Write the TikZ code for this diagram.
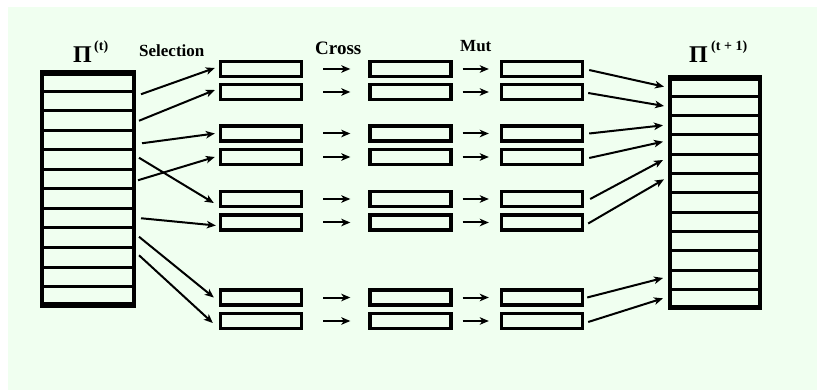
\documentclass[tikz,border=0pt]{standalone}
\usepackage{fontspec}
\setmainfont{Liberation Serif}
\usetikzlibrary{arrows.meta}
\definecolor{bgpale}{RGB}{240,255,240}
\tikzset{
  cell/.style={draw, line width=3pt, inner sep=0pt, minimum height=#1},
  lcell/.style={cell=19.5pt, minimum width=93pt},
  rcell/.style={cell=19.33pt, minimum width=91pt},
  outer/.style={draw, line width=4pt, inner sep=0pt},
  sbox/.style={draw, line width=3.4pt, inner sep=0pt, minimum width=81pt, minimum height=15pt},
  arr/.style={line width=2pt, -{Stealth[length=9pt,width=7.5pt,inset=2.5pt]}},
  lbl/.style={font=\bfseries, anchor=base west, inner sep=0pt},
}
\begin{document}
\begin{tikzpicture}[x=1pt,y=-1pt]
\useasboundingbox (0,0) rectangle (822,390);
\fill[white] (0,0) rectangle (822,390);
\fill[bgpale] (8,7) rectangle (817,390);

% left stack
\foreach \i in {1,...,12} {
  \node[lcell] (L\i) at (88,{72+19.5*(\i-0.5)}) {};
}
\node[outer, minimum width=92pt, minimum height=230pt] (L) at (88,189) {};
% right stack
\foreach \i in {1,...,12} {
  \node[rcell] (R\i) at (715,{77+19.333*(\i-0.5)}) {};
}
\node[outer, minimum width=90pt, minimum height=228pt] (R) at (715,193) {};

% boxes
\foreach \k/\y in {1/69,2/92,3/133.5,4/157,5/199,6/222.5,7/297.5,8/321} {
  \node[sbox] (A\k) at (261,\y) {};
  \node[sbox] (B\k) at (410.5,\y) {};
  \node[sbox] (C\k) at (542,\y) {};
  \draw[arr] ([xshift=20pt]A\k.east) -- ([xshift=-18pt]B\k.west);
  \draw[arr] ([xshift=10pt]B\k.east) -- ([xshift=-11pt]C\k.west);
}

% labels
\node[lbl, font=\bfseries\fontsize{24}{28}\selectfont] (pit) at (73,63) {Π};
\node[lbl, font=\bfseries\fontsize{14}{16}\selectfont] (pits) at (94,51) {(t)};
\node[lbl, font=\bfseries\fontsize{17}{20}\selectfont] (sel) at (139,57) {Selection};
\node[lbl, font=\bfseries\fontsize{19}{22}\selectfont] (cross) at (315,55) {Cross};
\node[lbl, font=\bfseries\fontsize{17}{20}\selectfont] (mut) at (460,52) {Mut};
\node[lbl, font=\bfseries\fontsize{24}{28}\selectfont] (pit1) at (689,63) {Π};
\node[lbl, font=\bfseries\fontsize{14}{16}\selectfont] (pit1s) at (711,51) {(t + 1)};

% selection arrows
\draw[arr] ([xshift=5pt,yshift=7pt]L2.east) -- ([xshift=-4pt,yshift=1pt]A1.west);
\draw[arr] ([xshift=3pt,yshift=0pt]L3.east) -- ([xshift=-4pt,yshift=2pt]A2.west);
\draw[arr] ([xshift=6pt,yshift=-3pt]L4.east) -- ([xshift=-4pt]A3.west);
\draw[arr] ([xshift=2pt,yshift=-1pt]L6.east) -- ([xshift=-4pt]A4.west);
\draw[arr] ([xshift=3pt,yshift=2pt]L5.east) -- ([xshift=-5pt,yshift=-4pt]A5.west);
\draw[arr] ([xshift=5pt]L8.east) -- ([xshift=-3pt,yshift=-3pt]A6.west);
\draw[arr] ([xshift=3pt,yshift=1pt]L9.east) -- ([xshift=-5pt]A7.west);
\draw[arr] ([xshift=3pt,yshift=2pt]L10.east) -- ([xshift=-6pt,yshift=-2pt]A8.west);

% replacement arrows
\draw[arr] ([xshift=5pt,yshift=-1pt]C1.east) -- ([xshift=-4pt]R1.west);
\draw[arr] ([xshift=4pt,yshift=-1pt]C2.east) -- ([xshift=-4pt]R2.west);
\draw[arr] ([xshift=5pt]C3.east) -- ([xshift=-5pt]R3.west);
\draw[arr] ([xshift=5pt,yshift=-1pt]C4.east) -- ([xshift=-5pt,yshift=3pt]R4.west);
\draw[arr] ([xshift=6pt]C5.east) -- ([xshift=-5pt,yshift=4pt]R5.west);
\draw[arr] ([xshift=4pt,yshift=-1pt]C6.east) -- ([xshift=-4pt,yshift=4pt]R6.west);
\draw[arr] ([xshift=3pt]C7.east) -- ([xshift=-5pt,yshift=2pt]R11.west);
\draw[arr] ([xshift=4pt,yshift=-1pt]C8.east) -- ([xshift=-5pt,yshift=1pt]R12.west);
\end{tikzpicture}
\end{document}
